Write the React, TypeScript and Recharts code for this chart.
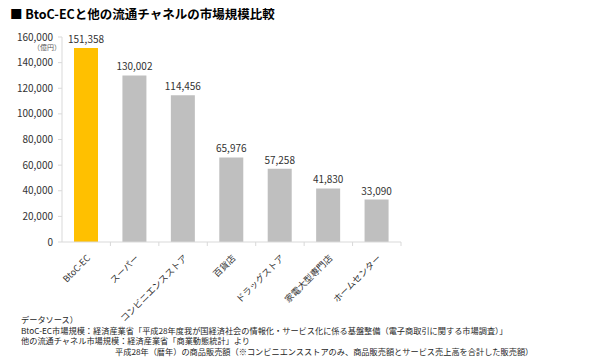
import React from "react";
import { BarChart, Bar, XAxis, YAxis, Cell, LabelList } from "recharts";

const categories = ["BtoC-EC", "スーパー", "コンビニエンスストア", "百貨店", "ドラッグストア", "家電大型専門店", "ホームセンター"];
const values = [151358, 130002, 114456, 65976, 57258, 41830, 33090];
const colors = ["#FFC000", "#BFBFBF", "#BFBFBF", "#BFBFBF", "#BFBFBF", "#BFBFBF", "#BFBFBF"];
const yTicks = [0, 20000, 40000, 60000, 80000, 100000, 120000, 140000, 160000];
const title = "■ BtoC-ECと他の流通チャネルの市場規模比較";
const unitLabel = "（億円）";
const notes = [
  "データソース）",
  "BtoC-EC市場規模：経済産業省「平成28年度我が国経済社会の情報化・サービス化に係る基盤整備（電子商取引に関する市場調査）」",
  "他の流通チャネル市場規模：経済産業省「商業動態統計」より",
  "平成28年（暦年）の商品販売額（※コンビニエンスストアのみ、商品販売額とサービス売上高を合計した販売額）",
];

const data = categories.map((name, i) => ({ name, value: values[i], color: colors[i] }));

const FONT = "'Noto Sans CJK JP', 'Noto Sans', sans-serif";
const fmt = (v: number) => v.toLocaleString("en-US");

const XTick = (props: any) => {
  const { x, y, payload } = props;
  const off = payload.offset || 0;
  return (
    <g>
      <line x1={x + off} x2={x + off} y1={y - 8} y2={y - 4} stroke="#D9D9D9" />
      <text
        x={0}
        y={0}
        transform={`translate(${x + 3},${y + 7}) rotate(-45)`}
        textAnchor="end"
        dominantBaseline="middle"
        fontSize={9}
        fill="#333333"
        fontFamily={FONT}
      >
        {payload.value}
      </text>
    </g>
  );
};

export default function App() {
  return (
    <div style={{ position: "absolute", left: 0, top: 0, width: 600, height: 357, background: "#fff", fontFamily: FONT }}>
      <div style={{ position: "absolute", left: 10, top: 4, fontSize: 12.5, fontWeight: 700, color: "#000", whiteSpace: "nowrap" }}>
        {title}
      </div>
      <div style={{ position: "absolute", left: 33, top: 43, fontSize: 7, lineHeight: "9px", color: "#595959", whiteSpace: "nowrap" }}>
        {unitLabel}
      </div>
      <BarChart
        width={600}
        height={357}
        data={data}
        margin={{ top: 37, right: 199, bottom: 55, left: 0 }}
      >
        <XAxis
          dataKey="name"
          interval={0}
          stroke="#D9D9D9"
          tickLine={false}
          tick={<XTick />}
          height={60}
        />
        <YAxis
          width={62}
          domain={[0, 160000]}
          ticks={yTicks}
          tickFormatter={fmt}
          stroke="#D9D9D9"
          tickSize={4}
          tickMargin={5}
          tick={{ fontSize: 10, fill: "#333333", fontFamily: FONT }}
          interval={0}
        />
        <Bar dataKey="value" barSize={24} isAnimationActive={false}>
          {data.map((d, i) => (
            <Cell key={i} fill={d.color} />
          ))}
          <LabelList dataKey="value" position="top" formatter={(v: any) => fmt(Number(v))} style={{ fontSize: 10, fill: "#333333", fontFamily: FONT }} />
        </Bar>
      </BarChart>
      <div style={{ position: "absolute", left: 21, top: 314, fontSize: 8.2, lineHeight: "10.5px", color: "#262626", whiteSpace: "nowrap" }}>
        <div>{notes[0]}</div>
        <div>{notes[1]}</div>
        <div>{notes[2]}</div>
        <div style={{ paddingLeft: 94 }}>{notes[3]}</div>
      </div>
    </div>
  );
}
